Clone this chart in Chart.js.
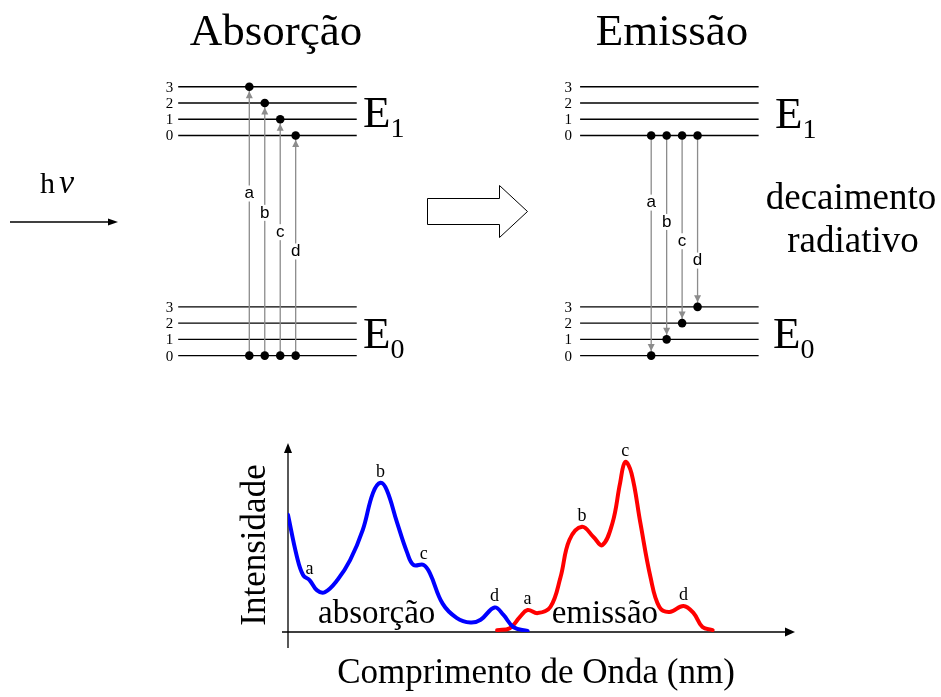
<!DOCTYPE html>
<html>
<head>
<meta charset="utf-8">
<title>Absorção e Emissão</title>
<script src="https://cdn.jsdelivr.net/npm/chart.js@4.4.0/dist/chart.umd.min.js"></script>
<style>
  body { margin: 0; background: #fff; }
  #wrap { position: relative; width: 941px; height: 697px; }
  #levels { position: absolute; left: 0; top: 0; }
  #spectrum { position: absolute; left: 0; top: 400px; }
</style>
</head>
<body>
<div id="wrap">
  <canvas id="levels" width="941" height="400"></canvas>
  <canvas id="spectrum" width="941" height="297"></canvas>
</div>
<script>
// ---- energy diagram data ----
const vibLevels = [0, 1, 2, 3];
// energy of v = 0 of each electronic state, in units of the vibrational spacing
const stateEnergy = { E0: 0, E1: 13.55 };
const transitions = ['a', 'b', 'c', 'd'];
// absorption: E0 v=0 -> E1 v
const absUpper = [3, 2, 1, 0];
// emission: E1 v=0 -> E0 v
const emiLower = [0, 1, 2, 3];

// ---- spectrum data (wavelength nm, relative intensity) ----
const absNm = [300, 307, 312, 317, 323, 329, 339, 349, 359, 367, 373, 378, 386, 394, 399, 407, 412, 422, 433, 444, 452, 463, 470, 478, 489];
const absI  = [62, 40, 30, 27.5, 22, 21, 27.5, 38, 54, 73.5, 79, 75, 58, 42, 35.5, 35.5, 31, 15, 7.5, 5, 6.5, 13, 9, 2.5, 0.5];
const emiNm = [465, 475, 483, 489, 497, 507, 515, 522, 532, 541, 548, 556, 562, 566, 571, 578, 586, 593, 601, 612, 620, 627, 635];
const emiI  = [1, 2, 8, 11.6, 10, 13.2, 29, 48.7, 55.7, 50.3, 46, 57.7, 78.8, 90, 84, 57.7, 29, 13.2, 10.6, 13.8, 10, 2.6, 1];
// band positions (a, b, c, d) in each spectrum
const absBandNm = [317, 373, 407, 463];
const emiBandNm = [489, 532, 566, 612];

const SERIF = "'Liberation Serif', 'Times New Roman', serif";

// ---- layout of the diagram (in diagram units) ----
const panelX = [11.25, 37.25];
const levelLen = 11.55;
const slot0 = 4.6;
const labelStart = [9.98, 9.42];
const labelStep = 1.19;

function yE(state, v) { return stateEnergy[state] + v; }

const dots = [];
const arrows = [];
transitions.forEach((t, i) => {
  const xa = panelX[0] + slot0 + i;
  const xe = panelX[1] + slot0 + i;
  dots.push({ x: xa, y: yE('E0', 0) }, { x: xa, y: yE('E1', absUpper[i]) });
  dots.push({ x: xe, y: yE('E1', 0) }, { x: xe, y: yE('E0', emiLower[i]) });
  arrows.push({ label: t, panel: 0, i: i, from: { x: xa, y: yE('E0', 0) }, to: { x: xa, y: yE('E1', absUpper[i]) } });
  arrows.push({ label: t, panel: 1, i: i, from: { x: xe, y: yE('E1', 0) }, to: { x: xe, y: yE('E0', emiLower[i]) } });
});

const topSets = [];
topSets.push({ data: dots, showLine: false, pointRadius: 4.3, pointBackgroundColor: '#000', pointBorderWidth: 0 });
arrows.forEach(a => topSets.push({
  data: [a.from, a.to], showLine: true, borderColor: '#8c8c8c', borderWidth: 1.3, pointRadius: 0
}));
panelX.forEach(px => ['E0', 'E1'].forEach(st => vibLevels.forEach(v => topSets.push({
  data: [{ x: px, y: yE(st, v) }, { x: px + levelLen, y: yE(st, v) }],
  showLine: true, borderColor: '#000', borderWidth: 1.4, pointRadius: 0
}))));

const diagramText = {
  id: 'diagramText',
  afterDatasetsDraw(chart) {
    const { ctx, scales: { x, y } } = chart;
    ctx.save();
    // arrow heads on the transitions
    ctx.fillStyle = '#8c8c8c';
    arrows.forEach(a => {
      const px = x.getPixelForValue(a.to.x), py = y.getPixelForValue(a.to.y);
      const dir = a.to.y > a.from.y ? 1 : -1;
      const tip = py + dir * 4.5;
      ctx.beginPath();
      ctx.moveTo(px, tip);
      ctx.lineTo(px - 3.5, tip + dir * 7);
      ctx.lineTo(px + 3.5, tip + dir * 7);
      ctx.closePath();
      ctx.fill();
    });
    // transition letters
    ctx.font = "17px 'Liberation Sans Narrow', 'Liberation Sans', sans-serif";
    ctx.textAlign = 'center';
    ctx.textBaseline = 'middle';
    arrows.forEach(a => {
      const px = x.getPixelForValue(a.to.x);
      const py = y.getPixelForValue(labelStart[a.panel] - labelStep * a.i);
      ctx.fillStyle = '#fff';
      ctx.fillRect(px - 5, py - 8, 10, 16);
      ctx.fillStyle = '#000';
      ctx.fillText(a.label, px, py);
    });
    // vibrational level numbers
    ctx.font = '15px ' + SERIF;
    ctx.textAlign = 'right';
    panelX.forEach((p, k) => ['E0', 'E1'].forEach(st => vibLevels.forEach(v => {
      ctx.fillText(String(v), x.getPixelForValue(p) - (k ? 8 : 5), y.getPixelForValue(yE(st, v)) + 1);
    })));
    // titles
    ctx.textAlign = 'center';
    ctx.textBaseline = 'alphabetic';
    ctx.font = '45px ' + SERIF;
    ctx.fillText('Absorção', 276, 45);
    ctx.fillText('Emissão', 672, 45);
    // state labels
    ctx.textAlign = 'left';
    const stateLbl = (px, base, sub) => {
      ctx.font = '45px ' + SERIF;
      ctx.fillText('E', px, base);
      const w = ctx.measureText('E').width;
      ctx.font = '28px ' + SERIF;
      ctx.fillText(sub, px + w, base + 10);
    };
    stateLbl(363, 127, '1');
    stateLbl(363, 348, '0');
    stateLbl(775, 128, '1');
    stateLbl(773, 348, '0');
    // decaimento radiativo
    ctx.textAlign = 'center';
    ctx.font = '37px ' + SERIF;
    ctx.fillText('decaimento', 851, 209);
    ctx.fillText('radiativo', 853, 252);
    // h nu and incoming arrow
    ctx.textAlign = 'left';
    ctx.font = '30px ' + SERIF;
    ctx.fillText('h', 40, 193);
    ctx.font = 'italic 34px ' + SERIF;
    ctx.fillText('ν', 59, 193);
    ctx.strokeStyle = '#000';
    ctx.lineWidth = 1.3;
    ctx.beginPath();
    ctx.moveTo(10, 222);
    ctx.lineTo(110, 222);
    ctx.stroke();
    ctx.beginPath();
    ctx.moveTo(118, 222);
    ctx.lineTo(108, 218.5);
    ctx.lineTo(108, 225.5);
    ctx.closePath();
    ctx.fill();
    // hollow block arrow
    ctx.lineWidth = 1;
    ctx.fillStyle = '#fff';
    ctx.beginPath();
    ctx.moveTo(427.5, 198.5);
    ctx.lineTo(499.5, 198.5);
    ctx.lineTo(499.5, 185.5);
    ctx.lineTo(527.5, 211.5);
    ctx.lineTo(499.5, 237.5);
    ctx.lineTo(499.5, 224.5);
    ctx.lineTo(427.5, 224.5);
    ctx.closePath();
    ctx.fill();
    ctx.stroke();
    ctx.restore();
  }
};

new Chart(document.getElementById('levels'), {
  type: 'scatter',
  data: { datasets: topSets },
  options: {
    animation: false,
    responsive: false,
    events: [],
    layout: { padding: 0 },
    scales: {
      x: { type: 'linear', min: 0, max: 60.32, display: false },
      y: { type: 'linear', min: -2.47, max: 21.63, display: false }
    },
    plugins: { legend: { display: false }, tooltip: { enabled: false } }
  },
  plugins: [diagramText]
});

// ---- spectrum ----
const seriesLabels = [
  { text: 'absorção', nm: 370, val: 4.8 },
  { text: 'emissão', nm: 550, val: 4.8 }
];

function bandPoint(nmArr, valArr, nm) {
  let best = 0;
  nmArr.forEach((v, i) => { if (Math.abs(v - nm) < Math.abs(nmArr[best] - nm)) best = i; });
  return { x: nmArr[best], y: valArr[best] };
}

const spectrumDecor = {
  id: 'spectrumDecor',
  beforeDatasetsDraw(chart) {
    const { ctx, scales: { x, y } } = chart;
    const x0 = x.getPixelForValue(x.min), x1 = x.getPixelForValue(x.max);
    const y0 = y.getPixelForValue(0), y1 = y.getPixelForValue(y.max);
    ctx.save();
    ctx.strokeStyle = '#000';
    ctx.fillStyle = '#000';
    ctx.lineWidth = 1.3;
    ctx.beginPath();
    ctx.moveTo(x0, y1 + 8);
    ctx.lineTo(x0, y0 + 16);
    ctx.moveTo(x0 - 6, y0);
    ctx.lineTo(x1 - 8, y0);
    ctx.stroke();
    ctx.beginPath();
    ctx.moveTo(x0, y1);
    ctx.lineTo(x0 - 4, y1 + 10);
    ctx.lineTo(x0 + 4, y1 + 10);
    ctx.closePath();
    ctx.fill();
    ctx.beginPath();
    ctx.moveTo(x1, y0);
    ctx.lineTo(x1 - 10, y0 - 4.5);
    ctx.lineTo(x1 - 10, y0 + 4.5);
    ctx.closePath();
    ctx.fill();
    ctx.restore();
  },
  afterDatasetsDraw(chart) {
    const { ctx, scales: { x, y } } = chart;
    ctx.save();
    ctx.fillStyle = '#000';
    ctx.textAlign = 'center';
    ctx.textBaseline = 'alphabetic';
    ctx.font = '18px ' + SERIF;
    [[absNm, absI, absBandNm], [emiNm, emiI, emiBandNm]].forEach(([n, v, bands]) => {
      bands.forEach((b, i) => {
        const p = bandPoint(n, v, b);
        ctx.fillText(transitions[i], x.getPixelForValue(p.x), y.getPixelForValue(p.y) - 6);
      });
    });
    ctx.font = '33px ' + SERIF;
    seriesLabels.forEach(s => ctx.fillText(s.text, x.getPixelForValue(s.nm), y.getPixelForValue(s.val)));
    // axis titles
    ctx.font = '35px ' + SERIF;
    ctx.fillText('Comprimento de Onda (nm)', 536, 283);
    ctx.save();
    ctx.translate(265, 145);
    ctx.rotate(-Math.PI / 2);
    ctx.font = '35px ' + SERIF;
    ctx.fillText('Intensidade', 0, 0);
    ctx.restore();
    ctx.restore();
  }
};

new Chart(document.getElementById('spectrum'), {
  type: 'line',
  data: {
    datasets: [
      {
        label: 'absorção',
        data: absNm.map((n, i) => ({ x: n, y: absI[i] })),
        borderColor: '#0000ff', borderWidth: 4, pointRadius: 0, fill: false,
        tension: 0.4, borderCapStyle: 'round', borderJoinStyle: 'round'
      },
      {
        label: 'emissão',
        data: emiNm.map((n, i) => ({ x: n, y: emiI[i] })),
        borderColor: '#ff0000', borderWidth: 4, pointRadius: 0, fill: false,
        tension: 0.4, borderCapStyle: 'round', borderJoinStyle: 'round'
      }
    ]
  },
  options: {
    animation: false,
    responsive: false,
    events: [],
    layout: { padding: { left: 288, right: 146, top: 43, bottom: 65 } },
    scales: {
      x: { type: 'linear', min: 300, max: 700, display: false },
      y: { type: 'linear', min: 0, max: 100, display: false }
    },
    plugins: { legend: { display: false }, tooltip: { enabled: false } }
  },
  plugins: [spectrumDecor]
});
</script>
</body>
</html>
